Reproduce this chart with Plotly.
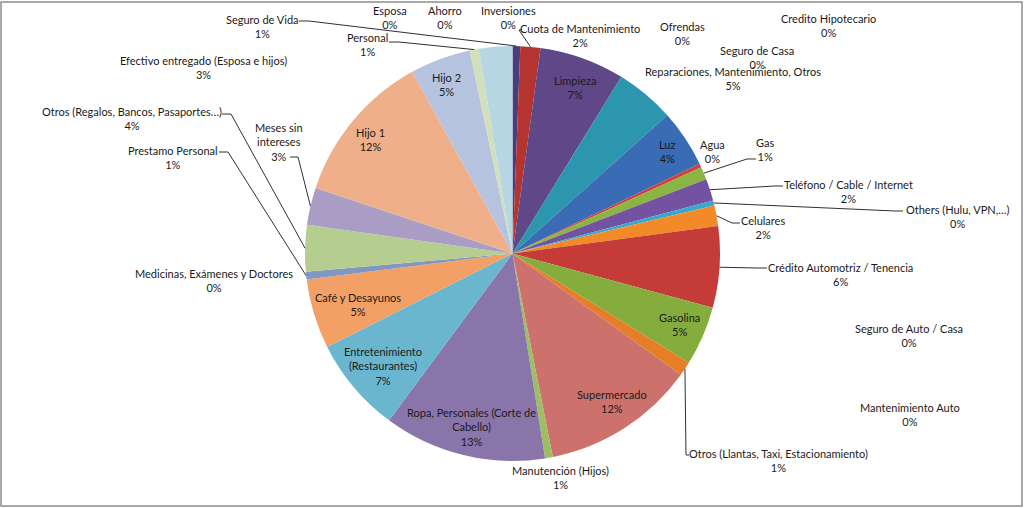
import math
import plotly.graph_objects as go

W, H = 1024, 508

# ---------------- data (clockwise from 12 o'clock) ----------------
categories = [
    "Seguro de Vida", "Cuota de Mantenimiento", "Ofrendas", "Credito Hipotecario",
    "Limpieza", "Seguro de Casa", "Reparaciones, Mantenimiento, Otros", "Luz", "Agua",
    "Gas", "Teléfono / Cable / Internet", "Others (Hulu, VPN,…)", "Celulares",
    "Crédito Automotriz / Tenencia", "Seguro de Auto / Casa", "Mantenimiento Auto",
    "Gasolina", "Otros (Llantas, Taxi, Estacionamiento)", "Supermercado",
    "Manutención (Hijos)", "Ropa, Personales (Corte de Cabello)",
    "Entretenimiento (Restaurantes)", "Café y Desayunos",
    "Medicinas, Exámenes y Doctores", "Prestamo Personal",
    "Otros (Regalos, Bancos, Pasaportes…)", "Meses sin intereses", "Hijo 1", "Hijo 2",
    "Personal", "Efectivo entregado (Esposa e hijos)", "Esposa", "Ahorro", "Inversiones",
]
values = [
    0.6, 1.55, 0, 0,
    6.6, 0, 4.6, 4.45, 0.3,
    1.0, 1.7, 0.4, 1.6,
    6.3, 0, 0,
    4.6, 1.1, 11.9,
    0.6, 12.6,
    7.4, 5.4,
    0, 0.6,
    3.6, 2.9, 11.8, 4.7,
    0.7, 2.6, 0, 0, 0,
]

# ---------------- styles ----------------
colors = [
    "#4B3C7E", "#B5342F", "#8BB542", "#7252A1",
    "#5F4788", "#4A8FC0", "#2B96AE", "#3A6BB5", "#D0403A",
    "#8BB542", "#7252A1", "#38A9CC", "#F28A28",
    "#C43B38", "#4F81BD", "#8064A2",
    "#84AD3E", "#E57E26", "#CD716D",
    "#9DBE62", "#8A75AB",
    "#6BB6CF", "#F2A066",
    "#95B3D7", "#8097C2",
    "#B5CD8E", "#A99DC6", "#EFAF8A", "#B5C3DE",
    "#D3DFBA", "#B6D7E2", "#CCCCCC", "#CCCCCC", "#CCCCCC",
]

wrapped = {
    "Ropa, Personales (Corte de Cabello)": "Ropa, Personales (Corte de<br>Cabello)",
    "Entretenimiento (Restaurantes)": "Entretenimiento<br>(Restaurantes)",
    "Meses sin intereses": "Meses sin<br>intereses",
}

# label block centres (pixels)
label_pos = {
    "Seguro de Vida": (262, 26), "Esposa": (390, 17), "Ahorro": (445, 17),
    "Inversiones": (508, 17), "Cuota de Mantenimiento": (580, 36),
    "Ofrendas": (682, 33), "Credito Hipotecario": (828, 25), "Limpieza": (575, 87),
    "Seguro de Casa": (757, 57), "Reparaciones, Mantenimiento, Otros": (733, 79),
    "Luz": (667, 151), "Agua": (712, 151), "Gas": (765, 150),
    "Teléfono / Cable / Internet": (848, 191), "Others (Hulu, VPN,…)": (957, 216),
    "Celulares": (763, 227), "Crédito Automotriz / Tenencia": (840, 274),
    "Seguro de Auto / Casa": (909, 335), "Mantenimiento Auto": (910, 414),
    "Gasolina": (679, 324), "Otros (Llantas, Taxi, Estacionamiento)": (778, 460),
    "Supermercado": (612, 401), "Manutención (Hijos)": (560, 477),
    "Ropa, Personales (Corte de Cabello)": (471, 427),
    "Entretenimiento (Restaurantes)": (383, 366), "Café y Desayunos": (358, 304),
    "Medicinas, Exámenes y Doctores": (214, 280), "Prestamo Personal": (173, 157),
    "Otros (Regalos, Bancos, Pasaportes…)": (132, 118), "Meses sin intereses": (279, 142),
    "Hijo 1": (370, 140), "Hijo 2": (446, 84), "Personal": (367, 45),
    "Efectivo entregado (Esposa e hijos)": (203, 68),
}

# leader lines: start point near label and end of horizontal stub (pixels)
leaders = {
    "Seguro de Vida": (299, 21, 309),
    "Personal": (389, 42, 399),
    "Cuota de Mantenimiento": (522, 30, 519),
    "Gas": (756, 159, 747),
    "Teléfono / Cable / Internet": (783, 186, 775),
    "Others (Hulu, VPN,…)": (903, 211, 895),
    "Celulares": (740, 223, 732),
    "Crédito Automotriz / Tenencia": (767, 268, 758),
    "Otros (Llantas, Taxi, Estacionamiento)": (689, 455, 686),
    "Prestamo Personal": (219, 152, 228),
    "Otros (Regalos, Bancos, Pasaportes…)": (222, 114, 231),
    "Meses sin intereses": (290, 157, 298),
}

# pie geometry (pixels)
CX, CY, R = 512.5, 253.5, 207.5
FONT = "Lato"


def px(x, y):
    return x / W, 1 - y / H


total = sum(values)

fig = go.Figure(go.Pie(
    labels=categories, values=values, sort=False, direction="clockwise",
    rotation=0, textinfo="none", hoverinfo="label+percent",
    marker=dict(colors=colors, line=dict(width=0)),
    domain=dict(x=[(CX - R) / W, (CX + R) / W], y=[1 - (CY + R) / H, 1 - (CY - R) / H]),
    showlegend=False,
))

annotations = []
for cat, v in zip(categories, values):
    pct = int(v / total * 100 + 0.5)
    x, y = px(*label_pos[cat])
    annotations.append(dict(
        x=x, y=y, xref="paper", yref="paper", xanchor="center", yanchor="middle",
        text=f"{wrapped.get(cat, cat)}<br>{pct}%", showarrow=False,
        font=dict(family=FONT, size=11, color="#1a1a1a"), align="center",
    ))

# slice mid angles from data
mid = {}
cum = 0.0
for cat, v in zip(categories, values):
    mid[cat] = (cum + v / 2) / total * 2 * math.pi
    cum += v

shapes = []
for cat, (sx, sy, kx) in leaders.items():
    a = mid[cat]
    ex, ey = CX + R * math.sin(a), CY - R * math.cos(a)
    pts = [px(sx, sy), px(kx, sy), px(ex, ey)]
    path = "M " + " L ".join(f"{p[0]:.5f},{p[1]:.5f}" for p in pts)
    shapes.append(dict(type="path", path=path, xref="paper", yref="paper",
                       line=dict(color="#303030", width=1)))

# chart border
shapes.append(dict(type="rect", xref="paper", yref="paper",
                   x0=1 / W, x1=1022 / W, y0=1 - 506 / H, y1=1 - 2 / H,
                   line=dict(color="#8c8c8c", width=1.5)))

fig.update_layout(
    width=W, height=H, margin=dict(l=0, r=0, t=0, b=0),
    paper_bgcolor="white", plot_bgcolor="white",
    annotations=annotations, shapes=shapes,
    font=dict(family=FONT),
)

fig.write_html(
    "out.html",
    config={"displayModeBar": False},
    post_script="document.body.style.margin='0';document.body.style.overflow='hidden';",
)
